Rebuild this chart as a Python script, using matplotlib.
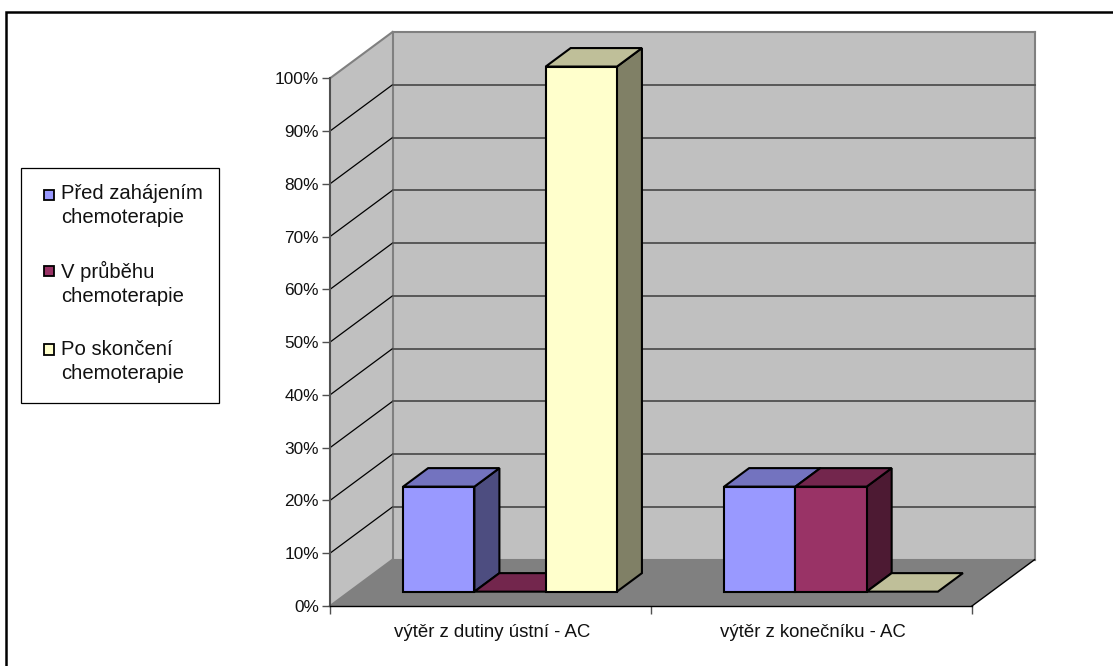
"""
Percentage of positive swabs per sampling site and chemotherapy phase,
drawn as a pseudo-3D clustered column chart.
"""

import matplotlib
matplotlib.use('Agg')
import matplotlib.pyplot as plt
from matplotlib.lines import Line2D
from matplotlib.patches import Polygon, Rectangle
from matplotlib.colors import to_rgb

plt.rcParams['font.family'] = ['Liberation Sans', 'DejaVu Sans']

categories = ['výtěr z dutiny ústní - AC', 'výtěr z konečníku - AC']
series_names = ['Před zahájením\nchemoterapie', 'V průběhu\nchemoterapie', 'Po skončení\nchemoterapie']
before_chemo = [20, 20]
during_chemo = [0, 20]
after_chemo = [100, 0]
series_values = [before_chemo, during_chemo, after_chemo]
series_colors = ['#9999FF', '#993366', '#FFFFCC']
y_ticks = list(range(0, 101, 10))

# pixel sizes of the oblique projection
W, H = 1113, 666
AX_LEFT, AX_RIGHT, AX_BOTTOM, AX_TOP = 330, 972, 606, 78.3
DEPTH_X, DEPTH_Y = 62.5, 46.3
PX_PER_CAT = (AX_RIGHT - AX_LEFT) / len(categories)
PX_PER_PCT = (AX_BOTTOM - AX_TOP) / 100
BAR_WIDTH = 0.222
GAP = 0.1675
BAR_SCALE = 0.995
D_FRONT, D_BACK = 0.31, 0.71


def proj(x, y, d=0.0):
    """Move a data point d of the way into the depth of the chart."""
    return (x + d * DEPTH_X / PX_PER_CAT, y + d * DEPTH_Y / PX_PER_PCT)


def shade(color, factor):
    r, g, b = to_rgb(color)
    return (r * factor, g * factor, b * factor)


def draw_poly(ax, points, face, edge='black', lw=1.5, z=2):
    ax.add_patch(Polygon(points, closed=True, facecolor=face, edgecolor=edge,
                         linewidth=lw, clip_on=False, zorder=z, joinstyle='miter'))


def draw_bar(ax, x0, x1, value, color, z):
    h = value * BAR_SCALE
    front = [proj(x0, 0, D_FRONT), proj(x1, 0, D_FRONT), proj(x1, h, D_FRONT), proj(x0, h, D_FRONT)]
    side = [proj(x1, 0, D_FRONT), proj(x1, 0, D_BACK), proj(x1, h, D_BACK), proj(x1, h, D_FRONT)]
    top = [proj(x0, h, D_FRONT), proj(x1, h, D_FRONT), proj(x1, h, D_BACK), proj(x0, h, D_BACK)]
    if value > 0:
        draw_poly(ax, side, shade(color, 0.5), z=z)
    draw_poly(ax, top, shade(color, 0.75), z=z)
    if value > 0:
        draw_poly(ax, front, color, z=z)


def draw_walls(ax):
    n = len(categories)
    # floor, left wall, back wall
    draw_poly(ax, [proj(0, 0), proj(n, 0), proj(n, 0, 1), proj(0, 0, 1)], '#808080', edge='none', lw=0, z=0.5)
    draw_poly(ax, [proj(0, 0), proj(0, 100), proj(0, 100, 1), proj(0, 0, 1)], '#C0C0C0', edge='none', lw=0, z=0.5)
    draw_poly(ax, [proj(0, 0, 1), proj(n, 0, 1), proj(n, 100, 1), proj(0, 100, 1)], '#C0C0C0', edge='none', lw=0, z=0.5)

    # wall outlines
    for a, b in [(proj(0, 0, 1), proj(0, 100, 1)), (proj(0, 100, 1), proj(n, 100, 1)),
                 (proj(n, 100, 1), proj(n, 0, 1)), (proj(0, 0), proj(0, 0, 1)),
                 (proj(0, 0, 1), proj(n, 0, 1)), (proj(0, 100), proj(0, 100, 1))]:
        ax.plot([a[0], b[0]], [a[1], b[1]], color='#808080', lw=1.5, clip_on=False, zorder=1)
    a, b = proj(n, 0), proj(n, 0, 1)
    ax.plot([a[0], b[0]], [a[1], b[1]], color='black', lw=1.0, clip_on=False, zorder=1)

    # gridlines on the left wall and the back wall
    for t in y_ticks[1:-1]:
        a, b = proj(0, t), proj(0, t, 1)
        ax.plot([a[0], b[0]], [a[1], b[1]], color='black', lw=0.9, clip_on=False, zorder=1)
        a, b = proj(0, t, 1), proj(n, t, 1)
        ax.plot([a[0], b[0]], [a[1], b[1]], color='#505050', lw=1.3, clip_on=False, zorder=1)


def draw_legend(fig):
    fig.add_artist(Rectangle((21 / W, 1 - 402.5 / H), 198 / W, 234.5 / H, transform=fig.transFigure,
                             facecolor='white', edgecolor='black', linewidth=0.9, zorder=5))
    for name, color, y, text_y in zip(series_names, series_colors, [195, 271, 349.5], [184.5, 261, 340]):
        fig.add_artist(Rectangle((43.8 / W, 1 - (y + 5.2) / H), 10.4 / W, 10.4 / H, transform=fig.transFigure,
                                 facecolor=color, edgecolor='black', linewidth=1.3, zorder=6))
        fig.text(61 / W, 1 - text_y / H, name, fontsize=14.6, va='top', ha='left',
                 color='#111111', linespacing=1.33, zorder=6)


def main():
    fig = plt.figure(figsize=(W / 100, H / 100), dpi=100, facecolor='white')

    # page border only runs along the top and the left side
    fig.add_artist(Line2D([6 / W, 6 / W, 1], [0, 1 - 11.5 / H, 1 - 11.5 / H], transform=fig.transFigure,
                          color='black', linewidth=1.8, zorder=-1, solid_joinstyle='miter'))

    ax = fig.add_axes([AX_LEFT / W, 1 - AX_BOTTOM / H, (AX_RIGHT - AX_LEFT) / W, (AX_BOTTOM - AX_TOP) / H])
    ax.set_zorder(2)
    ax.patch.set_visible(False)
    ax.set_xlim(0, len(categories))
    ax.set_ylim(0, 100)
    for side in ['top', 'right']:
        ax.spines[side].set_visible(False)
    ax.spines['left'].set_color('#505050')
    ax.spines['left'].set_linewidth(1.5)
    ax.spines['bottom'].set_linewidth(1.0)
    for spine in ax.spines.values():
        spine.set_zorder(3)

    ax.set_yticks(y_ticks)
    ax.set_yticklabels([f'{t}%' for t in y_ticks], fontsize=12.4, color='#111111')
    ax.set_xticks(range(len(categories) + 1))
    ax.set_xticklabels([])
    ax.set_xticks([i + 0.505 for i in range(len(categories))], minor=True)
    ax.set_xticklabels(categories, minor=True, fontsize=13.4, color='#111111')
    ax.tick_params(axis='y', length=5.5, width=1.0, color='#505050', pad=2.5)
    ax.tick_params(axis='x', which='major', length=5.5, width=1.0, color='#505050')
    ax.tick_params(axis='x', which='minor', length=0, pad=13)

    draw_walls(ax)

    for i in range(len(categories)):
        for j, (values, color) in enumerate(zip(series_values, series_colors)):
            x0 = i + GAP + j * BAR_WIDTH
            draw_bar(ax, x0, x0 + BAR_WIDTH, values[i], color, z=2 + j * 0.1)

    draw_legend(fig)

    fig.savefig('out.png', dpi=100)
    plt.close(fig)


if __name__ == "__main__":
    main()
